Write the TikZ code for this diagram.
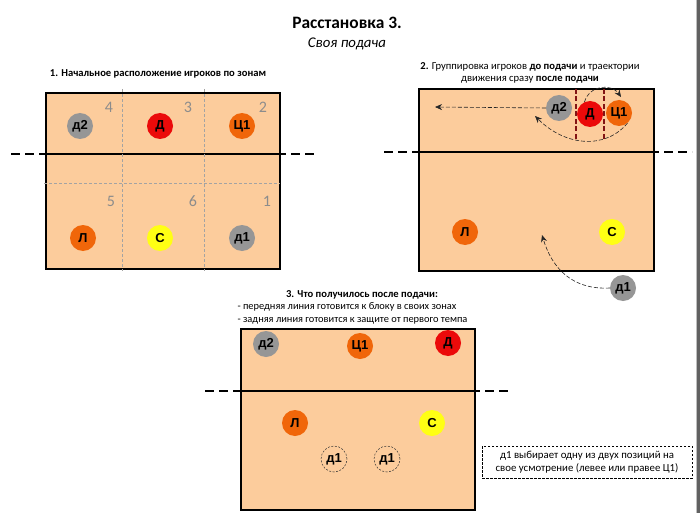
\documentclass[tikz,border=0pt]{standalone}
\usepackage{fontspec}
\setmainfont{Carlito}
\newfontfamily\plfont{Liberation Sans}
\usepackage{tikz}
\usetikzlibrary{positioning, arrows.meta}
\definecolor{courtfill}{RGB}{252,204,156}
\definecolor{plgray}{RGB}{150,150,150}
\definecolor{plred}{RGB}{235,10,10}
\definecolor{plorange}{RGB}{240,102,10}
\definecolor{plyellow}{RGB}{255,255,20}
\definecolor{zonegray}{RGB}{140,140,140}
\definecolor{setred}{RGB}{130,20,20}

\begin{document}
\begin{tikzpicture}[
    x=1pt, y=-1pt,
    court/.style={draw=black, line width=1.3pt, fill=courtfill},
    netline/.style={line width=1.2pt, dash pattern=on 9pt off 5pt},
    zoneline/.style={zonegray!80, line width=0.5pt, dash pattern=on 3pt off 2pt},
    setline/.style={setred, line width=1.1pt, dash pattern=on 5pt off 2.5pt},
    player/.style={circle, minimum size=26pt, inner sep=0pt, font=\plfont\bfseries\fontsize{13}{13}\selectfont},
    ghost/.style={player, draw=black!80, line width=0.5pt, dash pattern=on 2pt off 1.5pt},
    zone/.style={font=\fontsize{16}{16}\selectfont, text=zonegray},
    caption/.style={font=\bfseries\fontsize{10.6}{12.5}\selectfont, align=center},
    plain/.style={font=\fontsize{10.4}{12.5}\selectfont, align=left},
    move/.style={-{Stealth[length=7pt, width=6pt]}, black!85, line width=0.6pt, dash pattern=on 4pt off 2pt}
]
    \useasboundingbox (0,0) rectangle (700,513);

    % Title
    \node[font=\bfseries\fontsize{17.4}{19}\selectfont] (title) at (347,23) {Расстановка 3.};
    \node[font=\itshape\fontsize{14.8}{16}\selectfont] (subtitle) at (347,44) {Своя подача};

    % Court 1: starting zones
    \node[caption] (cap1) at (158,74) {1. Начальное расположение игроков по зонам};
    \draw[netline] (11,154) -- (317,154);
    \filldraw[court] (46,93) rectangle (280,269);
    \draw[line width=1.3pt] (46,154) -- (280,154);
    \draw[zoneline] (122,89) -- (122,271);
    \draw[zoneline] (204,89) -- (204,271);
    \draw[zoneline] (44,183) -- (280,183);
    \node[zone] (z4) at (109,107) {4};
    \node[zone] (z3) at (188,107) {3};
    \node[zone] (z2) at (263,107) {2};
    \node[zone] (z5) at (111,201) {5};
    \node[zone] (z6) at (193,201) {6};
    \node[zone] (z1) at (267,201) {1};
    \node[player, fill=plgray] (c1d2) at (80,126) {д2};
    \node[player, fill=plred] (c1D) at (160,126) {Д};
    \node[player, fill=plorange] (c1C) at (242,126) {Ц1};
    \node[player, fill=plorange] (c1L) at (83,238) {Л};
    \node[player, fill=plyellow] (c1S) at (160,238) {С};
    \node[player, fill=plgray] (c1d1) at (242,238) {д1};

    % Court 2: before the serve and moves after it
    \node[caption, font=\fontsize{10.6}{12.5}\selectfont] (cap2) at (530,73)
        {\textbf{2.} Группировка игроков \textbf{до подачи} и траектории\\движения сразу \textbf{после подачи}};
    \draw[netline] (384,152) -- (692,152);
    \filldraw[court] (419,89) rectangle (654,271);
    \draw[line width=1.3pt] (419,152) -- (654,152);
    \draw[setline] (576,89) -- (576,139);
    \draw[setline] (604,89) -- (604,139);
    \node[player, fill=plgray] (c2d2) at (559,108) {д2};
    \node[player, fill=plred] (c2D) at (590,114) {Д};
    \node[player, fill=plorange] (c2C) at (619,113) {Ц1};
    \node[player, fill=plorange] (c2L) at (465,232) {Л};
    \node[player, fill=plyellow] (c2S) at (612,232) {С};
    \node[player, fill=plgray] (c2d1) at (623,288) {д1};
    \coordinate (d2goal) at (435,107);
    \coordinate (Dgoal) at (621,97);
    \coordinate (Cgoal) at (535,116);
    \coordinate (d1goal) at (542,235);
    \draw[move] (c2d2.west) -- (d2goal);
    \draw[move] (c2D.115) .. controls (590,84) and (612,84) .. (Dgoal);
    \draw[move] (c2C.-50) .. controls (605,150) and (565,146) .. (Cgoal);
    \draw[move] (c2d1.west) .. controls (572,290) and (552,268) .. (d1goal);

    % Court 3: after the serve
    \node[caption] (cap3) at (362,295) {3. Что получилось после подачи:};
    \node[plain, anchor=west] (line3a) at (234,307) {- передняя линия готовится к блоку в своих зонах};
    \node[plain, anchor=west] (line3b) at (234,321) {- задняя линия готовится к защите от первого темпа};
    \draw[netline] (205,391) -- (512,391);
    \filldraw[court] (241,329) rectangle (475,510);
    \draw[line width=1.3pt] (241,391) -- (475,391);
    \node[player, fill=plgray] (c3d2) at (266,344) {д2};
    \node[player, fill=plorange] (c3C) at (360,346) {Ц1};
    \node[player, fill=plred] (c3D) at (448,343) {Д};
    \node[player, fill=plorange] (c3L) at (295,423) {Л};
    \node[player, fill=plyellow] (c3S) at (432,423) {С};
    \node[ghost] (c3d1a) at (334,459) {д1};
    \node[ghost] (c3d1b) at (387,459) {д1};

    % Note
    \node[plain, align=center, font=\fontsize{10.8}{13}\selectfont, draw=black, line width=0.6pt,
        dash pattern=on 2.5pt off 1.5pt, minimum width=210pt, minimum height=32pt] (note) at (587,462)
        {д1 выбирает одну из двух позиций на\\свое усмотрение (левее или правее Ц1)};

    % Window edge
    \fill[black!62] (697,0) rectangle (700,513);
    \draw[black!25, line width=0.6pt] (696.3,0) -- (696.3,513);
\end{tikzpicture}
\end{document}
